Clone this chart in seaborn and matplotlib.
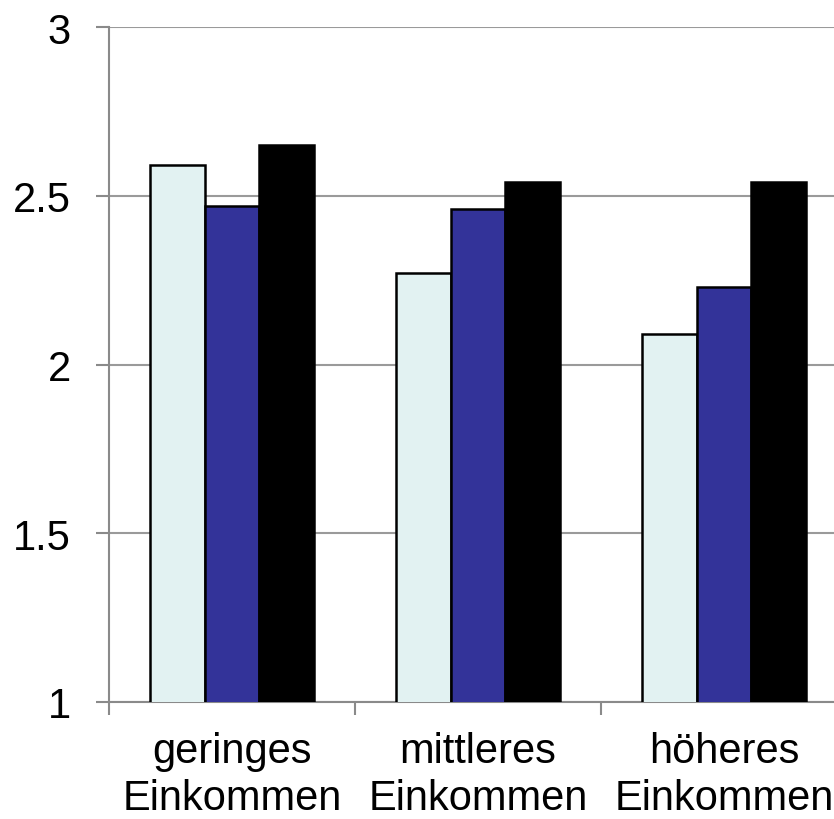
import numpy as np
import pandas as pd
import seaborn as sns
import matplotlib.pyplot as plt

categories = ['geringes\nEinkommen', 'mittleres\nEinkommen', 'höheres\nEinkommen']
series_names = ['Serie 1', 'Serie 2', 'Serie 3']
values_s1 = [2.59, 2.27, 2.09]
values_s2 = [2.47, 2.46, 2.23]
values_s3 = [2.65, 2.54, 2.54]
colors = ['#E2F2F2', '#333399', '#000000']

sns.set_theme(style='white')
plt.rcParams['font.family'] = ['Liberation Sans', 'DejaVu Sans']

df = pd.DataFrame({
    'Kategorie': categories * 3,
    'Serie': [s for s in series_names for _ in categories],
    'Wert': values_s1 + values_s2 + values_s3,
})

fig = plt.figure(figsize=(8.34, 8.2), dpi=100)
ax = fig.add_axes([109 / 834, 117 / 820, 738 / 834, 675 / 820])

sns.barplot(data=df, x='Kategorie', y='Wert', hue='Serie', order=categories,
            hue_order=series_names, palette=colors, saturation=1, width=0.663,
            edgecolor='black', linewidth=1.8, legend=False, ax=ax, zorder=3)

ax.set_ylim(1, 3)
ax.set_xlim(-0.5, 2.5)
ax.set_yticks([1, 1.5, 2, 2.5, 3])
ax.set_yticklabels(['1', '1.5', '2', '2.5', '3'])
ax.yaxis.grid(True, color='#9a9a9a', linewidth=1.5, zorder=0)
ax.set_axisbelow(True)

# tick marks at category boundaries, labels in the middle
ax.set_xticks([-0.5, 0.5, 1.5, 2.5])
ax.set_xticklabels([])
ax.set_xticks([0, 1, 2], minor=True)
ax.set_xticklabels(categories, minor=True)
ax.tick_params(axis='x', which='major', length=9.5, width=1.5, color='#8a8a8a', direction='out', bottom=True)
ax.tick_params(axis='x', which='minor', length=0, pad=21, labelsize=30, labelcolor='black')
ax.tick_params(axis='y', length=9.5, width=1.5, color='#8a8a8a', direction='out', left=True,
               pad=18, labelsize=30, labelcolor='black')
for lbl in ax.get_xticklabels(minor=True):
    lbl.set_linespacing(1.22)

for side in ['top', 'right']:
    ax.spines[side].set_visible(False)
for side in ['left', 'bottom']:
    ax.spines[side].set_color('#8a8a8a')
    ax.spines[side].set_linewidth(1.5)

ax.set_xlabel('')
ax.set_ylabel('')

plt.savefig('out.png', dpi=100)
